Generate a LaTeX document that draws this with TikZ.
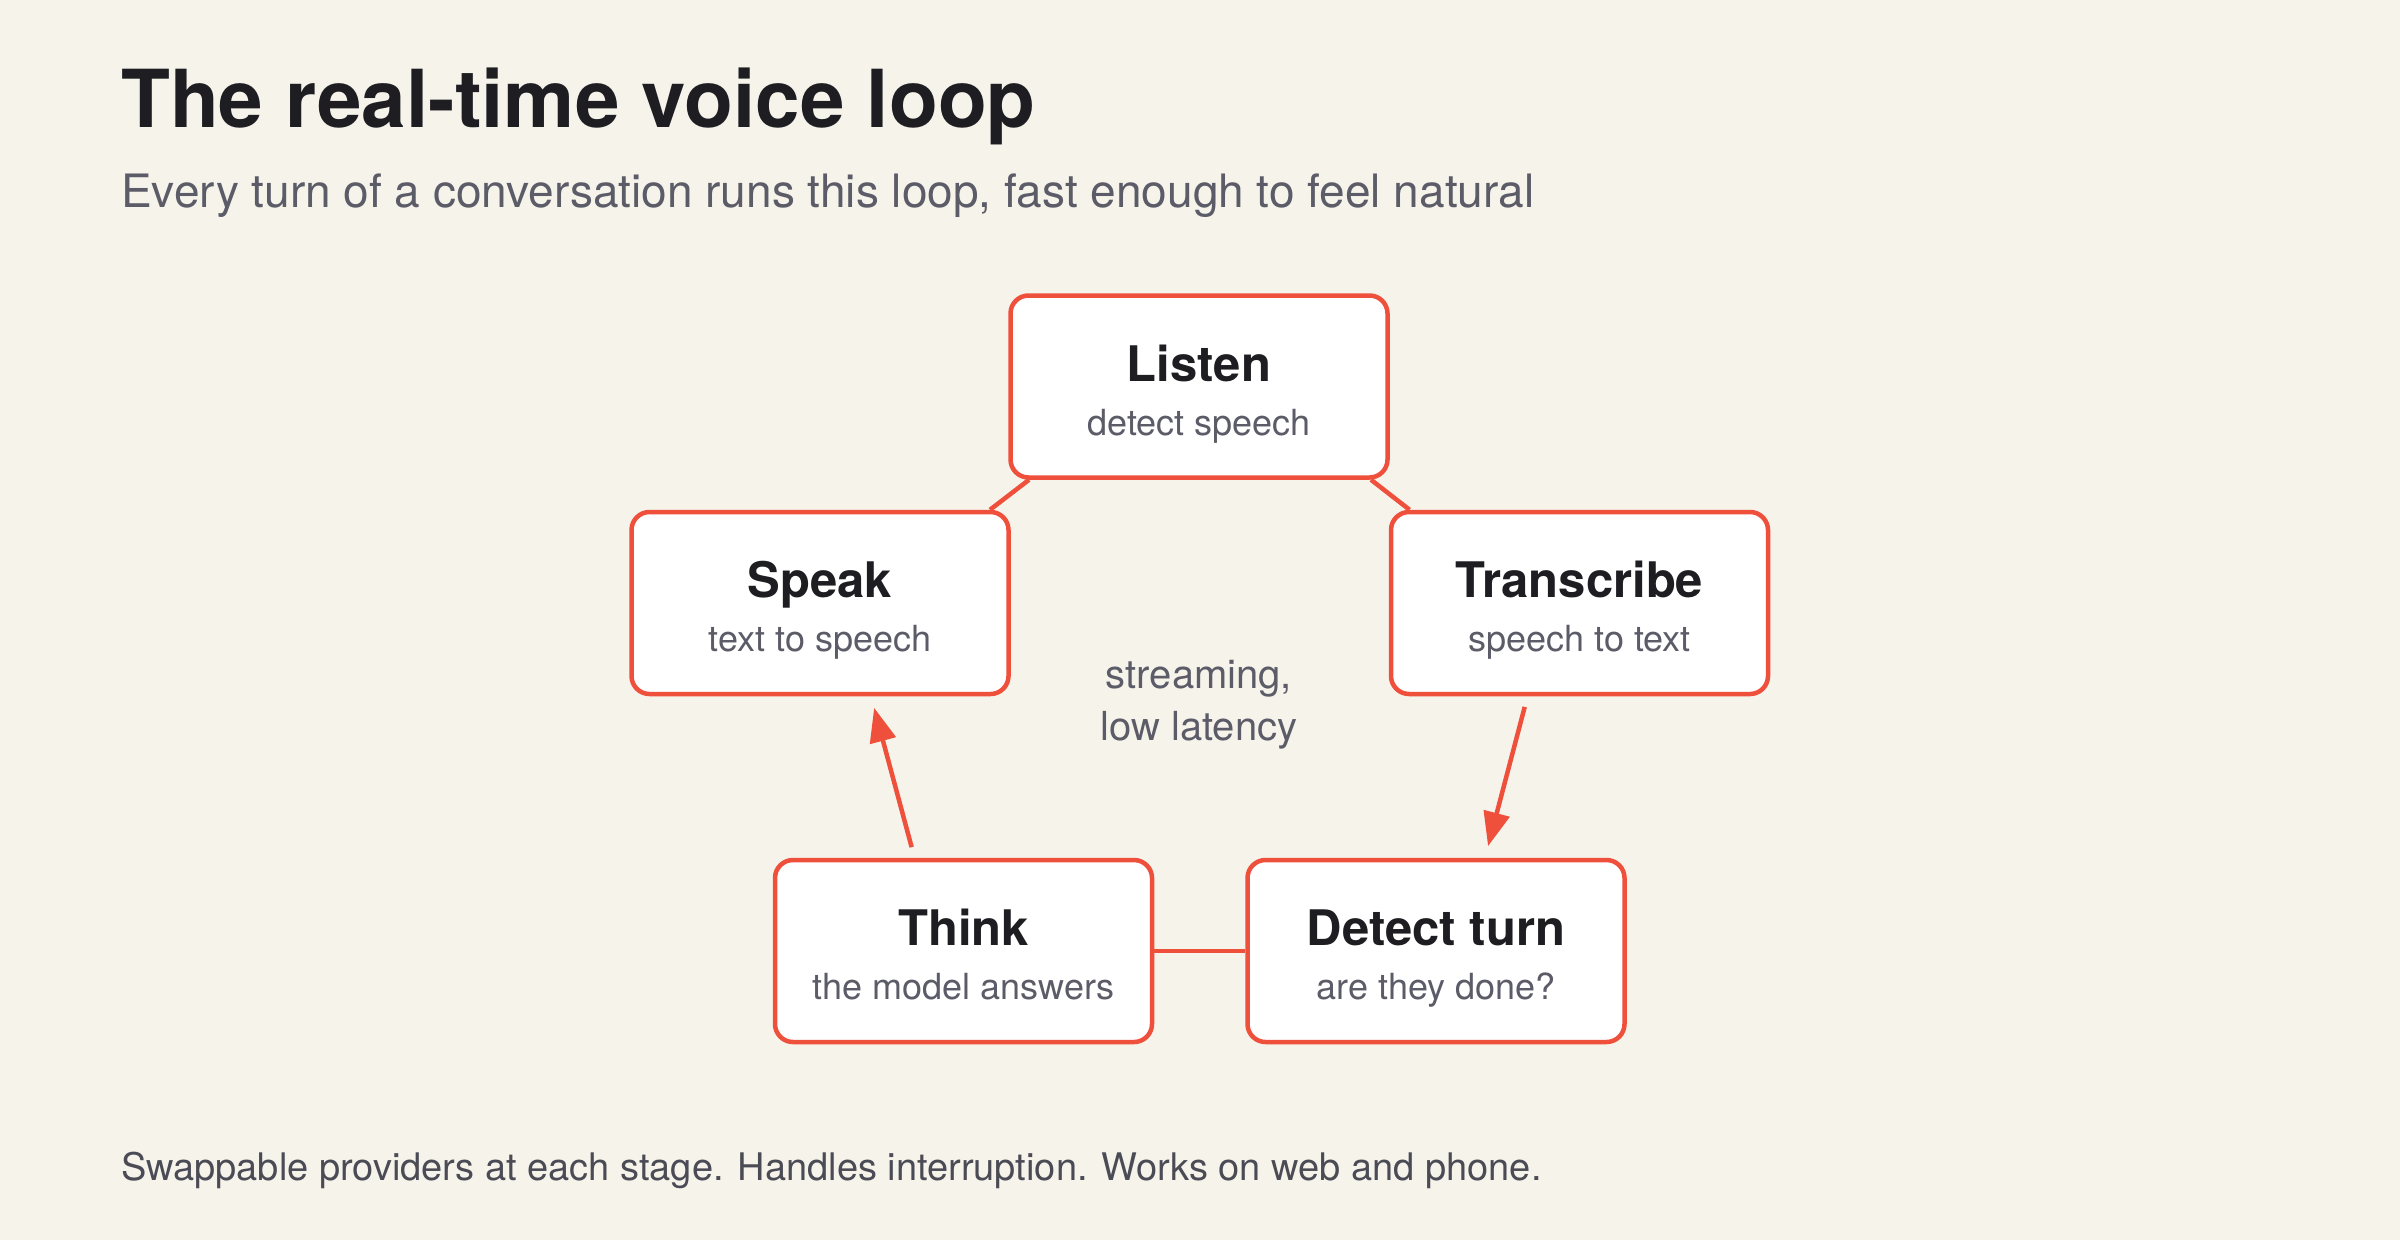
\documentclass[tikz,border=0pt]{standalone}
\usepackage{fontspec}
\setmainfont{TeX Gyre Heros}
\usetikzlibrary{arrows.meta}
\definecolor{bg}{HTML}{F6F3EB}
\definecolor{accent}{HTML}{EF503B}
\definecolor{ink}{HTML}{1D1D22}
\definecolor{muted}{HTML}{5C5C68}
\definecolor{foot}{HTML}{4B4B55}
\begin{document}
\begin{tikzpicture}[x=1pt,y=-1pt,
  stage/.style={draw=accent, line width=4.5pt, fill=white, rounded corners=18pt,
    minimum width=377pt, minimum height=182pt, inner sep=0pt},
  stitle/.style={font=\fontsize{49}{49}\selectfont\bfseries, text=ink, anchor=base, inner sep=0pt},
  ssub/.style={font=\fontsize{36}{36}\selectfont, text=muted, anchor=base, inner sep=0pt},
  link/.style={draw=accent, line width=4.5pt},
  flow/.style={link, -{Triangle[length=34pt,width=26pt]}, shorten <=11pt, shorten >=12pt}]
\fill[bg] (0,0) rectangle (2400,1240);
\useasboundingbox (0,0) rectangle (2400,1240);

\node[anchor=base west, font=\fontsize{80}{80}\selectfont\bfseries, text=ink, inner sep=0pt] (title) at (121,127) {The real-time voice loop};
\node[anchor=base west, font=\fontsize{46}{46}\selectfont, text=muted, inner sep=0pt] (subtitle) at (121,207) {Every turn of a conversation runs this loop, fast enough to feel natural};
\node[anchor=base west, font=\fontsize{38}{38}\selectfont, text=foot, inner sep=0pt] (footer) at (121,1180) {Swappable providers at each stage. Handles interruption. Works on web and phone.};

\node[stage] (listen) at (1199,386.5) {};
\node[stage] (speak) at (820,603) {};
\node[stage] (transcribe) at (1579.5,603) {};
\node[stage] (think) at (963.5,951) {};
\node[stage] (detect) at (1436,951) {};

\node[stitle] (listen-t) at ([yshift=5.5pt]listen.center) {Listen};
\node[ssub] (listen-s) at ([yshift=-48.5pt]listen.center) {detect speech};
\node[stitle] (speak-t) at ([yshift=5.5pt]speak.center) {Speak};
\node[ssub] (speak-s) at ([yshift=-48.5pt]speak.center) {text to speech};
\node[stitle] (transcribe-t) at ([yshift=5.5pt]transcribe.center) {Transcribe};
\node[ssub] (transcribe-s) at ([yshift=-48.5pt]transcribe.center) {speech to text};
\node[stitle] (think-t) at ([yshift=5.5pt]think.center) {Think};
\node[ssub] (think-s) at ([yshift=-48.5pt]think.center) {the model answers};
\node[stitle] (detect-t) at ([yshift=5.5pt]detect.center) {Detect turn};
\node[ssub] (detect-s) at ([yshift=-48.5pt]detect.center) {are they done?};

\node[font=\fontsize{40}{52}\selectfont, text=muted, align=center, inner sep=0pt] (note) at (1199,705) {streaming,\\low latency};

\draw[link] ([xshift=172pt]listen.south) -- ([xshift=-170pt]transcribe.north);
\draw[link] ([xshift=-170pt]listen.south) -- ([xshift=170pt]speak.north);
\draw[flow] ([xshift=-52pt]transcribe.south) -- ([xshift=49pt]detect.north);
\draw[link] (think.east) -- (detect.west);
\draw[flow] ([xshift=-49pt]think.north) -- ([xshift=51pt]speak.south);
\end{tikzpicture}
\end{document}
